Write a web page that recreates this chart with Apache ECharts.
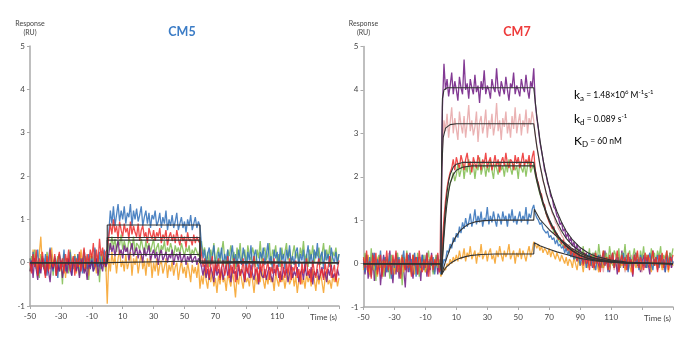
<!DOCTYPE html>
<html>
<head>
<meta charset="utf-8">
<script src="https://cdn.jsdelivr.net/npm/echarts@6/dist/echarts.min.js"></script>
<style>
  html, body { margin: 0; padding: 0; background: #fff; }
  #chart { width: 700px; height: 340px; }
</style>
</head>
<body>
<div id="chart"></div>
<script>
// sample times (s), one per second
const times = [
  -50, -49, -48, -47, -46, -45, -44, -43, -42, -41, -40, -39, -38, -37, -36, -35, -34, -33, -32, -31,
  -30, -29, -28, -27, -26, -25, -24, -23, -22, -21, -20, -19, -18, -17, -16, -15, -14, -13, -12, -11,
  -10, -9, -8, -7, -6, -5, -4, -3, -2, -1,
  0, 1, 2, 3, 4, 5, 6, 7, 8, 9, 10, 11, 12, 13, 14, 15, 16, 17, 18, 19,
  20, 21, 22, 23, 24, 25, 26, 27, 28, 29, 30, 31, 32, 33, 34, 35, 36, 37, 38, 39,
  40, 41, 42, 43, 44, 45, 46, 47, 48, 49, 50, 51, 52, 53, 54, 55, 56, 57, 58, 59, 60,
  61, 62, 63, 64, 65, 66, 67, 68, 69, 70, 71, 72, 73, 74, 75, 76, 77, 78, 79, 80,
  81, 82, 83, 84, 85, 86, 87, 88, 89, 90, 91, 92, 93, 94, 95, 96, 97, 98, 99, 100,
  101, 102, 103, 104, 105, 106, 107, 108, 109, 110, 111, 112, 113, 114, 115, 116, 117, 118, 119, 120,
  121, 122, 123, 124, 125, 126, 127, 128, 129, 130, 131, 132, 133, 134, 135, 136, 137, 138, 139, 140,
  141, 142, 143, 144, 145, 146, 147, 148, 149, 150
];

const xTicks = [-50, -30, -10, 10, 30, 50, 70, 90, 110];

// ---- CM5 responses (RU)
const cm5Blue = [
  0.1, -0.2, 0.25, -0.1, 0.05, 0.3, -0.25, 0.0, 0.15, -0.15,
  0.2, -0.3, 0.1, 0.35, -0.05, -0.2, 0.15, 0.0, -0.35, 0.2,
  0.05, -0.1, 0.3, -0.2, 0.1, -0.05, 0.25, -0.3, 0.0, 0.15,
  -0.15, 0.2, -0.05, 0.1, -0.25, 0.3, 0.05, -0.15, 0.2, -0.1,
  0.15, -0.2, 0.35, 0.0, -0.1, 0.25, -0.15, 0.1, 0.3, -0.05,
  0.2, 0.7, 1.2, 0.9, 1.3, 0.85, 1.1, 1.35, 0.95, 1.2,
  1.0, 1.3, 0.9, 1.15, 1.05, 1.35, 0.85, 1.2, 1.0, 1.25,
  0.95, 1.1, 1.3, 0.85, 1.05, 1.2, 0.9, 1.15, 0.8, 1.1,
  1.0, 1.2, 0.85, 0.95, 1.15, 0.8, 1.05, 0.9, 1.2, 0.75,
  1.0, 0.85, 1.1, 0.8, 0.95, 1.15, 0.75, 0.9, 1.05, 0.8,
  0.95, 0.7, 1.0, 0.85, 1.1, 0.75, 0.9, 1.05, 0.8, 0.95,
  0.85,
  0.4, 0.1, 0.3, -0.1, 0.2, 0.35, -0.05, 0.15, 0.4, 0.0,
  -0.15, 0.25, 0.1, 0.35, -0.1, 0.2, 0.05, 0.3, -0.2, 0.15,
  0.4, 0.0, 0.2, -0.1, 0.3, 0.1, -0.05, 0.35, 0.15, -0.2,
  0.25, 0.05, 0.4, -0.1, 0.15, 0.3, 0.0, -0.15, 0.25, 0.1,
  0.35, -0.05, 0.2, 0.45, 0.0, 0.15, -0.2, 0.3, 0.1, 0.25,
  -0.1, 0.35, 0.05, 0.2, -0.15, 0.3, 0.1, 0.4, 0.0, 0.15,
  -0.05, 0.25, 0.35, -0.1, 0.2, 0.05, 0.3, -0.2, 0.15, 0.4,
  0.0, 0.2, -0.1, 0.3, 0.1, 0.45, -0.05, 0.15, 0.25, -0.15,
  0.3, 0.05, 0.2, -0.1, 0.35, 0.1, 0.0, 0.25, -0.05, 0.2
];
const cm5Red = [
  0.0, -0.25, 0.2, -0.1, 0.3, -0.3, 0.1, -0.15, 0.25, -0.05,
  -0.35, 0.15, -0.2, 0.3, 0.0, -0.1, 0.2, -0.3, 0.05, 0.25,
  -0.15, 0.1, -0.25, 0.2, -0.05, 0.3, -0.2, 0.0, 0.15, -0.3,
  0.1, -0.1, 0.25, -0.2, 0.05, 0.35, -0.15, 0.2, -0.05, 0.3,
  0.1, 0.45, -0.1, 0.3, 0.0, 0.55, 0.15, 0.35, -0.05, 0.25,
  0.3, 0.6, 0.9, 0.65, 1.0, 0.7, 0.85, 0.55, 0.95, 0.75,
  0.6, 0.9, 0.7, 0.8, 0.55, 0.95, 0.65, 0.85, 0.7, 0.6,
  0.9, 0.5, 0.75, 0.85, 0.6, 0.7, 0.45, 0.8, 0.65, 0.55,
  0.75, 0.5, 0.7, 0.6, 0.8, 0.45, 0.65, 0.55, 0.75, 0.4,
  0.6, 0.7, 0.5, 0.65, 0.45, 0.75, 0.55, 0.4, 0.65, 0.5,
  0.6, 0.35, 0.7, 0.5, 0.55, 0.4, 0.65, 0.45, 0.6, 0.5,
  0.45,
  0.2, -0.1, 0.1, -0.25, 0.05, -0.35, -0.05, 0.15, -0.3, 0.0,
  -0.2, 0.1, -0.4, -0.1, 0.05, -0.3, -0.15, 0.15, -0.35, -0.05,
  -0.25, 0.1, -0.45, -0.1, 0.0, -0.3, -0.2, 0.1, -0.4, -0.05,
  -0.25, 0.05, -0.35, -0.15, 0.15, -0.3, -0.1, -0.45, 0.0, -0.2,
  0.1, -0.35, -0.15, 0.05, -0.4, -0.1, -0.25, 0.1, -0.3, -0.05,
  -0.2, -0.45, 0.05, -0.15, -0.35, 0.0, -0.25, 0.1, -0.4, -0.1,
  -0.2, 0.05, -0.35, -0.15, -0.5, 0.0, -0.25, -0.1, 0.1, -0.3,
  -0.15, -0.45, 0.05, -0.2, -0.35, -0.05, 0.1, -0.3, -0.15, -0.4,
  0.0, -0.25, -0.1, 0.15, -0.35, -0.2, -0.05, -0.45, -0.15, 0.05
];
const cm5Purple = [
  -0.2, 0.05, -0.35, 0.1, -0.15, -0.4, 0.0, -0.25, 0.1, -0.1,
  -0.3, 0.05, -0.2, -0.45, 0.0, -0.15, 0.1, -0.3, -0.05, -0.2,
  0.05, -0.35, -0.1, 0.0, -0.25, 0.1, -0.15, -0.3, 0.05, -0.1,
  -0.2, 0.0, -0.35, -0.05, 0.1, -0.25, -0.1, -0.4, 0.0, -0.15,
  0.05, -0.2, -0.1, 0.1, -0.3, -0.05, 0.0, -0.2, 0.1, -0.1,
  0.0, 0.2, 0.45, 0.25, 0.4, 0.15, 0.35, 0.5, 0.2, 0.3,
  0.1, 0.4, 0.25, 0.35, 0.05, 0.3, 0.45, 0.15, 0.25, 0.35,
  0.1, 0.3, 0.2, 0.0, 0.35, 0.15, 0.25, 0.4, 0.05, 0.2,
  0.3, 0.1, 0.25, -0.05, 0.2, 0.3, 0.05, 0.15, 0.25, 0.0,
  0.2, 0.1, 0.3, -0.05, 0.15, 0.2, 0.05, 0.25, 0.0, 0.1,
  0.2, -0.05, 0.15, 0.05, 0.2, 0.0, 0.1, 0.15, -0.05, 0.1,
  0.05,
  -0.1, -0.3, -0.05, -0.35, -0.15, -0.4, -0.1, -0.25, -0.45, -0.05,
  -0.3, -0.15, -0.35, -0.1, -0.4, -0.2, -0.05, -0.3, -0.15, -0.45,
  -0.1, -0.25, -0.2, -0.4, -0.05, -0.3, -0.15, -0.25, -0.45, -0.1,
  -0.2, -0.35, -0.05, -0.25, -0.4, -0.15, -0.2, -0.5, -0.1, -0.3,
  -0.35, -0.15, -0.4, -0.2, -0.1, -0.3, -0.45, -0.15, -0.25, -0.05,
  -0.35, -0.2, -0.4, -0.1, -0.3, -0.15, -0.45, -0.25, -0.05, -0.35,
  -0.2, -0.3, -0.1, -0.45, -0.25, -0.15, -0.4, -0.05, -0.3, -0.2,
  -0.35, -0.1, -0.5, -0.2, -0.3, -0.15, -0.4, -0.25, -0.1, -0.35,
  -0.2, -0.45, -0.15, -0.3, -0.05, -0.35, -0.25, -0.4, -0.15, -0.3
];
const cm5Orange = [
  0.1, -0.2, 0.3, -0.05, 0.15, -0.3, 0.2, 0.6, -0.1, 0.05,
  -0.25, 0.2, 0.0, -0.15, 0.35, -0.1, 0.1, -0.3, 0.05, 0.2,
  -0.2, 0.0, 0.15, -0.35, 0.1, -0.05, 0.25, -0.15, 0.0, 0.2,
  -0.25, 0.1, -0.1, 0.3, -0.05, -0.2, 0.15, 0.0, -0.3, 0.1,
  0.2, -0.1, 0.05, -0.25, 0.15, 0.0, -0.15, 0.25, -0.1, 0.05,
  -0.95, 0.1, -0.2, 0.25, -0.05, 0.15, -0.25, 0.1, 0.3, -0.1,
  0.05, -0.2, 0.2, -0.15, 0.0, 0.25, -0.3, 0.1, -0.05, 0.15,
  -0.25, 0.0, 0.2, -0.15, 0.05, -0.3, 0.1, -0.1, 0.15, -0.35,
  0.0, -0.2, 0.1, -0.3, -0.05, 0.05, -0.25, -0.1, 0.1, -0.35,
  -0.05, -0.2, 0.05, -0.3, -0.1, 0.0, -0.4, -0.15, 0.05, -0.25,
  -0.1, -0.35, 0.0, -0.2, -0.45, -0.05, -0.25, -0.1, -0.35, 0.0,
  -0.6,
  -0.3, -0.5, -0.15, -0.4, -0.6, -0.25, -0.45, -0.2, -0.55, -0.35,
  -0.7, -0.3, -0.5, -0.15, -0.45, -0.35, -0.65, -0.25, -0.4, -0.55,
  -0.2, -0.45, -0.8, -0.3, -0.5, -0.15, -0.4, -0.6, -0.25, -0.45,
  -0.35, -0.55, -0.2, -0.4, -0.7, -0.3, -0.5, -0.25, -0.45, -0.15,
  -0.4, -0.6, -0.3, -0.5, -0.2, -0.45, -0.35, -0.65, -0.25, -0.4,
  -0.55, -0.2, -0.45, -0.3, -0.6, -0.35, -0.15, -0.5, -0.4, -0.25,
  -0.55, -0.3, -0.7, -0.4, -0.2, -0.5, -0.35, -0.6, -0.25, -0.45,
  -0.3, -0.55, -0.15, -0.4, -0.65, -0.3, -0.5, -0.25, -0.45, -0.7,
  -0.35, -0.2, -0.5, -0.4, -0.6, -0.3, -0.45, -0.25, -0.55, -0.35
];
const cm5Green = [
  -0.2, 0.15, -0.05, 0.3, -0.15, 0.05, -0.35, 0.2, -0.1, 0.1,
  -0.25, 0.25, 0.0, -0.15, 0.2, -0.3, 0.1, -0.05, 0.15, -0.2,
  0.05, -0.5, 0.2, -0.1, 0.1, -0.25, 0.3, 0.0, -0.15, 0.15,
  -0.05, 0.2, -0.3, 0.1, -0.1, 0.25, -0.2, 0.05, -0.4, 0.15,
  0.0, -0.15, 0.3, -0.1, 0.1, -0.45, 0.2, -0.05, 0.15, -0.2,
  0.1, 0.45, 0.3, 0.6, 0.35, 0.55, 0.25, 0.5, 0.4, 0.65,
  0.3, 0.5, 0.35, 0.25, 0.55, 0.45, 0.3, 0.6, 0.2, 0.45,
  0.4, 0.3, 0.55, 0.35, 0.2, 0.5, 0.3, 0.45, 0.25, 0.4,
  0.55, 0.2, 0.35, 0.45, 0.15, 0.4, 0.3, 0.5, 0.2, 0.35,
  0.25, 0.45, 0.3, 0.15, 0.4, 0.25, 0.35, 0.2, 0.45, 0.3,
  0.15, 0.35, 0.25, 0.4, 0.1, 0.3, 0.2, 0.35, 0.25, 0.15,
  0.3,
  0.5, 0.2, 0.35, 0.0, 0.25, -0.1, 0.3, 0.1, 0.45, -0.05,
  0.2, 0.35, 0.0, 0.25, 0.5, 0.1, -0.1, 0.3, 0.15, 0.4,
  0.05, 0.25, -0.15, 0.35, 0.1, 0.45, 0.0, 0.2, 0.3, -0.05,
  0.4, 0.15, 0.05, 0.35, 0.2, -0.1, 0.3, 0.1, 0.5, 0.0,
  0.25, 0.35, 0.05, 0.2, 0.45, -0.05, 0.3, 0.15, 0.4, 0.0,
  0.2, -0.1, 0.35, 0.1, 0.25, 0.45, 0.05, 0.3, -0.05, 0.2,
  0.4, 0.1, 0.25, 0.0, 0.35, 0.15, 0.5, 0.05, 0.2, -0.1,
  0.3, 0.1, 0.4, 0.0, 0.25, 0.15, 0.35, -0.05, 0.2, 0.45,
  0.05, 0.3, 0.1, 0.4, -0.1, 0.25, 0.15, 0.35, 0.0, 0.2
];

// CM5 steady-state fits: [time, RU]
const cm5Fits = [
  [[-50, 0], [0, 0], [0, 0.87], [60, 0.87], [60, 0], [150, 0]],
  [[-50, 0], [0, 0], [0, 0.58], [60, 0.58], [60, 0], [150, 0]],
  [[-50, 0], [0, 0], [0, 0.52], [60, 0.52], [60, 0], [150, 0]],
  [[-50, 0], [0, 0], [0, 0.19], [60, 0.19], [60, 0], [150, 0]],
  [[-50, 0], [0, 0], [0, 0.04], [60, 0.04], [60, 0], [150, 0]]
];

// ---- CM7 responses (RU)
const cm7Purple = [
  0.1, -0.25, 0.2, -0.35, 0.05, -0.15, 0.25, -0.4, 0.0, -0.2,
  0.15, -0.5, -0.05, 0.2, -0.3, 0.1, -0.2, 0.3, -0.1, -0.45,
  0.05, -0.25, 0.15, -0.35, 0.0, 0.2, -0.15, -0.55, 0.1, -0.2,
  0.25, -0.1, -0.35, 0.05, 0.15, -0.25, 0.0, -0.4, 0.2, -0.1,
  0.1, -0.3, 0.05, -0.15, 0.25, -0.2, 0.0, 0.15, -0.25, 0.05,
  0.1, 3.6, 4.6, 4.0, 4.25, 3.85, 4.1, 4.4, 3.9, 4.2,
  4.0, 3.75, 4.3, 4.05, 3.9, 4.7, 4.0, 4.15, 3.8, 4.25,
  4.05, 3.9, 4.35, 3.95, 4.1, 3.7, 4.2, 4.0, 4.45, 3.9,
  4.1, 4.0, 3.8, 4.25, 4.05, 3.95, 4.5, 4.0, 3.85, 4.2,
  4.05, 3.9, 4.3, 4.0, 3.75, 4.15, 4.05, 4.4, 3.9, 4.1,
  4.0, 3.85, 4.25, 4.05, 3.95, 4.35, 4.0, 3.8, 4.2, 4.05,
  4.5,
  3.7, 3.35, 3.1, 2.8, 2.6, 2.4, 2.15, 2.05, 1.85, 1.75,
  1.55, 1.5, 1.3, 1.25, 1.1, 1.05, 0.9, 0.95, 0.75, 0.8,
  0.6, 0.7, 0.5, 0.6, 0.4, 0.5, 0.3, 0.45, 0.25, 0.35,
  0.15, 0.3, 0.1, 0.25, 0.0, 0.2, 0.05, -0.1, 0.25, 0.0,
  0.15, -0.15, 0.2, 0.05, -0.1, 0.3, 0.0, 0.15, -0.2, 0.1,
  0.25, -0.05, 0.1, -0.25, 0.15, 0.0, 0.3, -0.1, 0.05, 0.2,
  -0.15, 0.1, 0.0, -0.3, 0.15, 0.25, -0.05, 0.1, -0.2, 0.05,
  0.2, -0.1, 0.15, 0.0, -0.25, 0.1, 0.3, -0.05, 0.15, -0.15,
  0.05, 0.2, -0.1, 0.1, -0.2, 0.15, 0.0, 0.25, -0.1, 0.05
];
const cm7Pink = [
  -0.05, 0.2, -0.15, 0.1, -0.3, 0.15, -0.05, 0.25, -0.2, 0.0,
  -0.1, 0.2, -0.35, 0.05, 0.15, -0.2, 0.25, -0.05, 0.0, -0.25,
  0.1, -0.1, 0.2, -0.15, 0.05, -0.3, 0.15, 0.0, -0.2, 0.2,
  -0.05, 0.1, -0.25, 0.25, -0.1, 0.05, -0.2, 0.15, 0.0, -0.15,
  0.2, -0.05, 0.1, -0.3, 0.15, -0.1, 0.05, 0.2, -0.15, 0.0,
  0.0, 2.7, 3.3, 3.05, 3.45, 2.9, 3.25, 3.6, 3.0, 3.35,
  3.1, 2.85, 3.5, 3.2, 3.0, 3.4, 2.9, 3.25, 3.65, 3.05,
  3.3, 2.95, 3.15, 3.5, 2.8, 3.25, 3.4, 3.0, 3.2, 3.55,
  2.9, 3.3, 3.1, 3.45, 2.95, 3.2, 3.7, 3.05, 3.3, 2.85,
  3.35, 3.15, 3.5, 3.0, 3.25, 2.9, 3.4, 3.1, 3.6, 3.0,
  3.25, 3.45, 2.95, 3.3, 3.15, 3.55, 3.0, 3.35, 3.2, 3.5,
  3.3,
  2.95, 2.7, 2.5, 2.25, 2.1, 1.9, 1.8, 1.6, 1.5, 1.35,
  1.3, 1.15, 1.1, 0.95, 0.9, 0.8, 0.75, 0.65, 0.6, 0.5,
  0.5, 0.4, 0.45, 0.3, 0.35, 0.2, 0.3, 0.15, 0.25, 0.05,
  0.2, 0.0, 0.15, -0.1, 0.1, 0.2, -0.05, 0.15, 0.0, -0.15,
  0.1, 0.2, -0.05, 0.05, -0.2, 0.15, 0.0, 0.1, -0.1, 0.2,
  0.05, -0.15, 0.1, 0.0, 0.2, -0.1, 0.05, 0.15, -0.2, 0.0,
  0.1, -0.05, 0.2, -0.15, 0.05, 0.1, -0.1, 0.15, 0.0, -0.2,
  0.1, 0.05, -0.1, 0.2, 0.0, -0.15, 0.1, 0.05, -0.05, 0.15,
  -0.1, 0.0, 0.2, -0.15, 0.05, 0.1, -0.05, 0.15, -0.1, 0.05
];
const cm7Red = [
  0.15, -0.1, 0.3, -0.2, 0.05, -0.35, 0.2, -0.05, 0.25, -0.25,
  0.0, 0.2, -0.3, 0.1, -0.1, 0.3, -0.15, 0.05, -0.25, 0.2,
  -0.05, 0.3, -0.2, 0.1, -0.35, 0.15, 0.0, -0.15, 0.25, -0.1,
  0.05, -0.3, 0.2, -0.05, 0.15, -0.25, 0.3, 0.0, -0.2, 0.1,
  -0.1, 0.25, -0.3, 0.05, 0.2, -0.15, 0.1, -0.05, 0.25, -0.2,
  -0.1, 0.5, 1.05, 1.45, 1.75, 1.95, 2.1, 2.2, 2.4, 2.15,
  2.45, 2.3, 2.2, 2.5, 2.35, 2.15, 2.4, 2.55, 2.25, 2.35,
  2.1, 2.45, 2.3, 2.2, 2.5, 2.35, 2.15, 2.4, 2.3, 2.55,
  2.2, 2.35, 2.45, 2.15, 2.3, 2.5, 2.25, 2.4, 2.1, 2.35,
  2.45, 2.25, 2.55, 2.3, 2.2, 2.4, 2.35, 2.15, 2.5, 2.3,
  2.45, 2.2, 2.35, 2.55, 2.25, 2.4, 2.3, 2.5, 2.2, 2.45,
  2.6,
  2.15, 1.95, 1.85, 1.65, 1.6, 1.4, 1.35, 1.15, 1.15, 0.95,
  0.95, 0.8, 0.85, 0.65, 0.7, 0.55, 0.6, 0.45, 0.55, 0.35,
  0.45, 0.3, 0.4, 0.2, 0.35, 0.15, 0.3, 0.05, 0.25, 0.1,
  0.2, -0.05, 0.25, 0.0, 0.15, -0.15, 0.2, 0.05, -0.1, 0.25,
  0.0, 0.15, -0.2, 0.1, 0.3, -0.05, 0.15, -0.15, 0.2, 0.0,
  0.25, -0.1, 0.1, 0.3, -0.2, 0.05, 0.2, -0.05, 0.15, -0.15,
  0.25, 0.0, 0.1, -0.25, 0.2, 0.05, 0.3, -0.1, 0.15, 0.0,
  -0.15, 0.25, 0.05, 0.2, -0.1, 0.1, 0.3, -0.05, 0.15, -0.2,
  0.2, 0.0, 0.25, -0.1, 0.1, 0.3, -0.15, 0.15, 0.05, 0.2
];
const cm7Green = [
  -0.1, 0.25, -0.05, 0.15, -0.25, 0.35, -0.15, 0.05, -0.4, 0.1,
  0.2, -0.1, 0.05, -0.3, 0.15, -0.05, 0.1, -0.35, 0.2, 0.0,
  -0.15, 0.1, 0.25, -0.2, 0.05, -0.5, 0.15, -0.05, 0.3, -0.1,
  0.0, -0.25, 0.2, 0.05, -0.15, 0.25, -0.3, 0.1, -0.05, 0.2,
  -0.2, 0.05, 0.3, -0.1, 0.15, -0.25, 0.0, 0.2, -0.1, 0.1,
  -0.15, 0.3, 0.8, 1.2, 1.45, 1.7, 1.85, 1.95, 2.1, 1.9,
  2.05, 2.3, 2.0, 2.15, 2.35, 1.95, 2.25, 2.1, 2.4, 2.05,
  2.2, 2.3, 1.95, 2.25, 2.15, 2.45, 2.05, 2.2, 2.3, 2.0,
  2.25, 2.1, 2.4, 2.15, 1.95, 2.3, 2.2, 2.05, 2.35, 2.15,
  2.25, 2.0, 2.3, 2.1, 2.4, 2.2, 2.05, 2.3, 2.15, 2.25,
  1.95, 2.35, 2.2, 2.1, 2.3, 2.0, 2.25, 2.4, 2.1, 2.2,
  2.3,
  2.05, 1.9, 1.75, 1.6, 1.5, 1.35, 1.3, 1.15, 1.05, 1.0,
  0.9, 0.85, 0.7, 0.75, 0.6, 0.6, 0.5, 0.5, 0.4, 0.45,
  0.3, 0.4, 0.2, 0.35, 0.15, 0.3, 0.1, 0.35, 0.05, 0.25,
  0.15, 0.4, 0.0, 0.2, 0.1, 0.35, -0.05, 0.25, 0.1, 0.3,
  0.0, 0.45, 0.15, -0.1, 0.3, 0.1, 0.25, 0.0, 0.4, 0.15,
  -0.05, 0.3, 0.2, 0.05, 0.35, -0.1, 0.25, 0.1, 0.45, 0.0,
  0.2, 0.3, -0.05, 0.15, 0.35, 0.05, 0.25, -0.1, 0.3, 0.1,
  0.4, 0.0, 0.2, 0.15, -0.05, 0.35, 0.1, 0.25, 0.0, 0.3,
  0.15, 0.4, -0.05, 0.2, 0.1, 0.3, 0.0, 0.25, 0.15, 0.35
];
const cm7Blue = [
  0.05, -0.2, 0.2, -0.1, 0.15, -0.3, 0.0, 0.25, -0.15, 0.1,
  -0.05, 0.3, -0.25, 0.05, 0.15, -0.2, 0.0, 0.2, -0.35, 0.1,
  -0.1, 0.25, -0.05, 0.15, -0.25, 0.05, 0.3, -0.15, 0.0, 0.2,
  -0.2, 0.1, -0.05, 0.25, -0.3, 0.15, 0.0, -0.1, 0.2, -0.15,
  0.05, 0.25, -0.2, 0.1, -0.05, 0.15, -0.25, 0.05, 0.2, -0.1,
  -0.25, -0.1, 0.1, 0.05, 0.3, 0.25, 0.45, 0.35, 0.6, 0.5,
  0.7, 0.6, 0.85, 0.7, 0.95, 0.8, 1.05, 0.85, 0.95, 1.15,
  0.85, 1.0, 1.25, 0.9, 1.1, 0.95, 1.2, 0.85, 1.05, 1.0,
  1.3, 0.9, 1.1, 0.95, 1.2, 1.0, 0.85, 1.15, 1.05, 0.9,
  1.2, 1.0, 1.1, 0.85, 1.15, 1.0, 1.25, 0.95, 1.1, 0.9,
  1.05, 1.2, 0.95, 1.1, 1.0, 1.3, 0.9, 1.15, 1.05, 1.25,
  1.35,
  1.15, 1.05, 1.0, 0.9, 0.95, 0.8, 0.8, 0.7, 0.75, 0.6,
  0.65, 0.55, 0.6, 0.45, 0.55, 0.4, 0.45, 0.35, 0.4, 0.25,
  0.35, 0.2, 0.3, 0.15, 0.25, 0.1, 0.2, 0.05, 0.2, -0.05,
  0.15, 0.0, 0.2, -0.1, 0.1, 0.25, -0.05, 0.15, 0.0, -0.15,
  0.1, 0.2, -0.1, 0.05, 0.25, -0.05, 0.1, -0.2, 0.15, 0.0,
  0.2, -0.1, 0.05, 0.15, -0.15, 0.1, 0.0, 0.25, -0.05, 0.1,
  -0.2, 0.15, 0.05, -0.1, 0.2, 0.0, 0.1, -0.15, 0.2, 0.05,
  -0.05, 0.15, -0.1, 0.1, 0.25, 0.0, -0.15, 0.1, 0.05, 0.2,
  -0.1, 0.15, 0.0, 0.1, -0.2, 0.2, 0.05, -0.05, 0.15, 0.0
];
const cm7Orange = [
  -0.15, 0.1, -0.05, 0.2, -0.25, 0.05, -0.15, 0.15, 0.0, -0.3,
  0.15, -0.1, 0.05, -0.2, 0.1, 0.0, -0.15, 0.2, -0.05, 0.1,
  -0.25, 0.15, 0.0, -0.1, 0.05, 0.2, -0.2, 0.1, -0.05, 0.15,
  -0.15, 0.0, 0.2, -0.25, 0.1, -0.05, 0.15, -0.15, 0.05, 0.0,
  -0.2, 0.1, -0.1, 0.15, -0.05, 0.05, -0.2, 0.1, 0.0, -0.1,
  -0.3, -0.2, -0.1, -0.15, 0.0, -0.05, 0.1, 0.0, 0.15, 0.05,
  0.2, 0.05, 0.3, 0.1, 0.15, 0.35, 0.05, 0.25, 0.15, 0.4,
  0.1, 0.2, 0.3, 0.0, 0.25, 0.15, 0.45, 0.1, 0.2, 0.3,
  0.05, 0.25, 0.35, 0.1, 0.2, 0.0, 0.3, 0.15, 0.4, 0.2,
  0.05, 0.3, 0.15, 0.25, 0.45, 0.1, 0.2, 0.3, 0.0, 0.25,
  0.15, 0.35, 0.1, 0.3, 0.2, 0.05, 0.25, 0.4, 0.15, 0.3,
  0.5,
  0.45, 0.35, 0.45, 0.3, 0.4, 0.25, 0.35, 0.3, 0.2, 0.35,
  0.15, 0.3, 0.2, 0.1, 0.25, 0.15, 0.05, 0.2, 0.1, 0.0,
  0.15, -0.05, 0.1, 0.05, -0.1, 0.15, 0.0, -0.15, 0.1, -0.05,
  0.05, -0.2, 0.1, 0.0, -0.1, 0.15, -0.05, 0.05, -0.15, 0.1,
  0.0, -0.2, 0.05, 0.1, -0.1, 0.0, 0.15, -0.05, -0.15, 0.1,
  0.05, -0.1, 0.0, 0.15, -0.2, 0.05, -0.05, 0.1, -0.15, 0.0,
  0.1, -0.05, -0.2, 0.05, 0.15, -0.1, 0.0, 0.1, -0.15, 0.05,
  -0.05, 0.1, -0.1, 0.0, 0.15, -0.2, 0.05, -0.05, 0.1, -0.1,
  0.0, 0.15, -0.15, 0.05, -0.05, 0.1, -0.2, 0.0, 0.1, -0.05
];

// CM7 kinetic fits: [time, RU]
const cm7FitPurple = [[-50, 0], [0, 0], [0.5, 2.5], [1, 3.8], [2, 4.0], [4, 4.05], [60, 4.05], [62, 3.4], [64, 2.85], [66, 2.4], [68, 2.05], [70, 1.75], [72, 1.5], [75, 1.2], [78, 0.95], [81, 0.75], [85, 0.55], [90, 0.37], [95, 0.25], [100, 0.17], [110, 0.08], [120, 0.035], [130, 0.015], [150, 0]];
const cm7FitPink = [[-50, 0], [0, 0], [0.6, 2.2], [1.5, 2.9], [3, 3.12], [6, 3.2], [10, 3.22], [60, 3.22], [62, 2.7], [64, 2.28], [66, 1.93], [68, 1.64], [70, 1.4], [72, 1.2], [75, 0.95], [78, 0.75], [81, 0.58], [85, 0.42], [90, 0.28], [95, 0.18], [100, 0.12], [110, 0.05], [120, 0.02], [135, 0.005], [150, 0]];
const cm7FitRed = [[-50, 0], [0, 0], [0.5, -0.2], [2, 0.8], [3, 1.3], [4, 1.65], [5, 1.9], [6, 2.05], [8, 2.22], [10, 2.29], [14, 2.33], [60, 2.33], [62, 1.97], [64, 1.68], [66, 1.42], [68, 1.2], [70, 1.02], [72, 0.87], [75, 0.68], [78, 0.53], [81, 0.41], [85, 0.3], [90, 0.19], [95, 0.12], [100, 0.08], [110, 0.035], [120, 0.015], [150, 0]];
const cm7FitGreen = [[-50, 0], [0, 0], [0.5, -0.2], [2, 0.6], [3, 1.05], [4, 1.4], [5, 1.65], [6, 1.85], [8, 2.05], [10, 2.15], [14, 2.22], [20, 2.25], [60, 2.25], [62, 1.9], [64, 1.62], [66, 1.37], [68, 1.16], [70, 0.98], [72, 0.84], [75, 0.66], [78, 0.51], [81, 0.4], [85, 0.29], [90, 0.18], [95, 0.12], [100, 0.08], [110, 0.035], [120, 0.015], [150, 0]];
const cm7FitBlue = [[-50, 0], [0, 0], [0.5, -0.25], [3, 0.05], [6, 0.35], [9, 0.58], [12, 0.74], [15, 0.84], [18, 0.91], [22, 0.96], [28, 0.99], [35, 1.0], [60, 1.0], [60.4, 1.25], [62, 1.15], [64, 1.02], [67, 0.9], [70, 0.78], [75, 0.62], [80, 0.48], [85, 0.34], [90, 0.24], [95, 0.16], [100, 0.11], [110, 0.05], [120, 0.02], [135, 0.005], [150, 0]];
const cm7FitOrange = [[-50, 0], [0, 0], [0.5, -0.25], [3, -0.1], [6, 0.0], [9, 0.07], [12, 0.12], [16, 0.16], [20, 0.19], [26, 0.21], [35, 0.22], [60, 0.22], [60.4, 0.48], [62, 0.45], [64, 0.41], [70, 0.33], [75, 0.27], [80, 0.22], [85, 0.17], [90, 0.12], [95, 0.09], [100, 0.06], [110, 0.03], [120, 0.01], [150, 0]];

const colors = {
  purple: '#6d1781',
  pink: '#e6a4a6',
  red: '#ec2b2b',
  green: '#7fbc4e',
  blue: '#2f6fb8',
  orange: '#f6a024'
};

const labelFont = 'Lato, "Open Sans", sans-serif';

function trace(arr, color, idx) {
  return {
    type: 'line',
    xAxisIndex: idx,
    yAxisIndex: idx,
    showSymbol: false,
    silent: true,
    lineStyle: { color: color, width: 1.3, opacity: 0.85 },
    data: times.map((t, i) => [t, arr[i]])
  };
}

function fit(points, idx) {
  return {
    type: 'line',
    xAxisIndex: idx,
    yAxisIndex: idx,
    showSymbol: false,
    silent: true,
    z: 5,
    lineStyle: { color: '#333', width: 1.1 },
    data: points
  };
}

function xAxisFor(idx) {
  return {
    type: 'value',
    gridIndex: idx,
    min: -50,
    max: 150,
    interval: 20,
    name: 'Time (s)',
    nameLocation: 'end',
    nameGap: -2,
    nameTextStyle: { align: 'right', verticalAlign: 'top', padding: [7, 0, 0, 0], fontSize: 8, color: '#444', fontFamily: labelFont },
    axisLine: { onZero: false, lineStyle: { color: '#aaa', width: 1.5 } },
    axisTick: { length: 3, lineStyle: { color: '#aaa' } },
    axisLabel: {
      fontSize: 8,
      color: '#444',
      margin: 6,
      fontFamily: labelFont,
      formatter: v => (xTicks.indexOf(v) >= 0 ? String(v) : '')
    },
    splitLine: { show: false }
  };
}

function yAxisFor(idx) {
  return {
    type: 'value',
    gridIndex: idx,
    min: -1,
    max: 5,
    interval: 1,
    name: 'Response\n(RU)',
    nameLocation: 'end',
    nameGap: 9,
    nameTextStyle: { align: 'center', fontSize: 7, lineHeight: 9, color: '#444', fontFamily: labelFont },
    axisLine: { show: true, onZero: false, lineStyle: { color: '#aaa', width: 1.5 } },
    axisTick: { show: true, length: 3, lineStyle: { color: '#aaa' } },
    axisLabel: { fontSize: 8, color: '#444', margin: 5, fontFamily: labelFont },
    splitLine: { show: false }
  };
}

const chart = echarts.init(document.getElementById('chart'), null, { renderer: 'canvas' });

const kStyle = {
  k: { fontSize: 12, color: '#555', fontFamily: labelFont },
  sub: { fontSize: 8, color: '#555', fontFamily: labelFont, padding: [7, 0, 0, 0] },
  t: { fontSize: 8.5, color: '#555', fontFamily: labelFont },
  sup: { fontSize: 6, color: '#555', fontFamily: labelFont, padding: [0, 0, 6, 0] }
};

const option = {
  animation: false,
  backgroundColor: '#fff',
  title: [
    { text: 'CM5', left: 177, top: 20, textAlign: 'center', textStyle: { color: '#3b7cc6', fontSize: 12.5, fontWeight: 'bold', fontFamily: labelFont } },
    { text: 'CM7', left: 512, top: 20, textAlign: 'center', textStyle: { color: '#ee3b3b', fontSize: 12.5, fontWeight: 'bold', fontFamily: labelFont } }
  ],
  grid: [
    { left: 30, top: 46, width: 309, height: 260 },
    { left: 363.5, top: 46.5, width: 309.5, height: 260.5 }
  ],
  xAxis: [xAxisFor(0), xAxisFor(1)],
  yAxis: [yAxisFor(0), yAxisFor(1)],
  graphic: [
    { type: 'text', left: 574, top: 89, style: { text: '{k|k}{sub|a}{t| = 1.48×10}{sup|6}{t| M}{sup|-1}{t|s}{sup|-1}', rich: kStyle } },
    { type: 'text', left: 574, top: 113, style: { text: '{k|k}{sub|d}{t| = 0.089 s}{sup|-1}', rich: kStyle } },
    { type: 'text', left: 574, top: 135, style: { text: '{k|K}{sub|D}{t| = 60 nM}', rich: kStyle } }
  ],
  series: [
    trace(cm5Green, colors.green, 0),
    trace(cm5Orange, colors.orange, 0),
    trace(cm5Blue, colors.blue, 0),
    trace(cm5Purple, colors.purple, 0),
    trace(cm5Red, colors.red, 0),
    ...cm5Fits.map(f => fit(f, 0)),
    trace(cm7Pink, colors.pink, 1),
    trace(cm7Purple, colors.purple, 1),
    trace(cm7Green, colors.green, 1),
    trace(cm7Orange, colors.orange, 1),
    trace(cm7Blue, colors.blue, 1),
    trace(cm7Red, colors.red, 1),
    fit(cm7FitPurple, 1),
    fit(cm7FitPink, 1),
    fit(cm7FitRed, 1),
    fit(cm7FitGreen, 1),
    fit(cm7FitBlue, 1),
    fit(cm7FitOrange, 1)
  ]
};

chart.setOption(option);
</script>
</body>
</html>
